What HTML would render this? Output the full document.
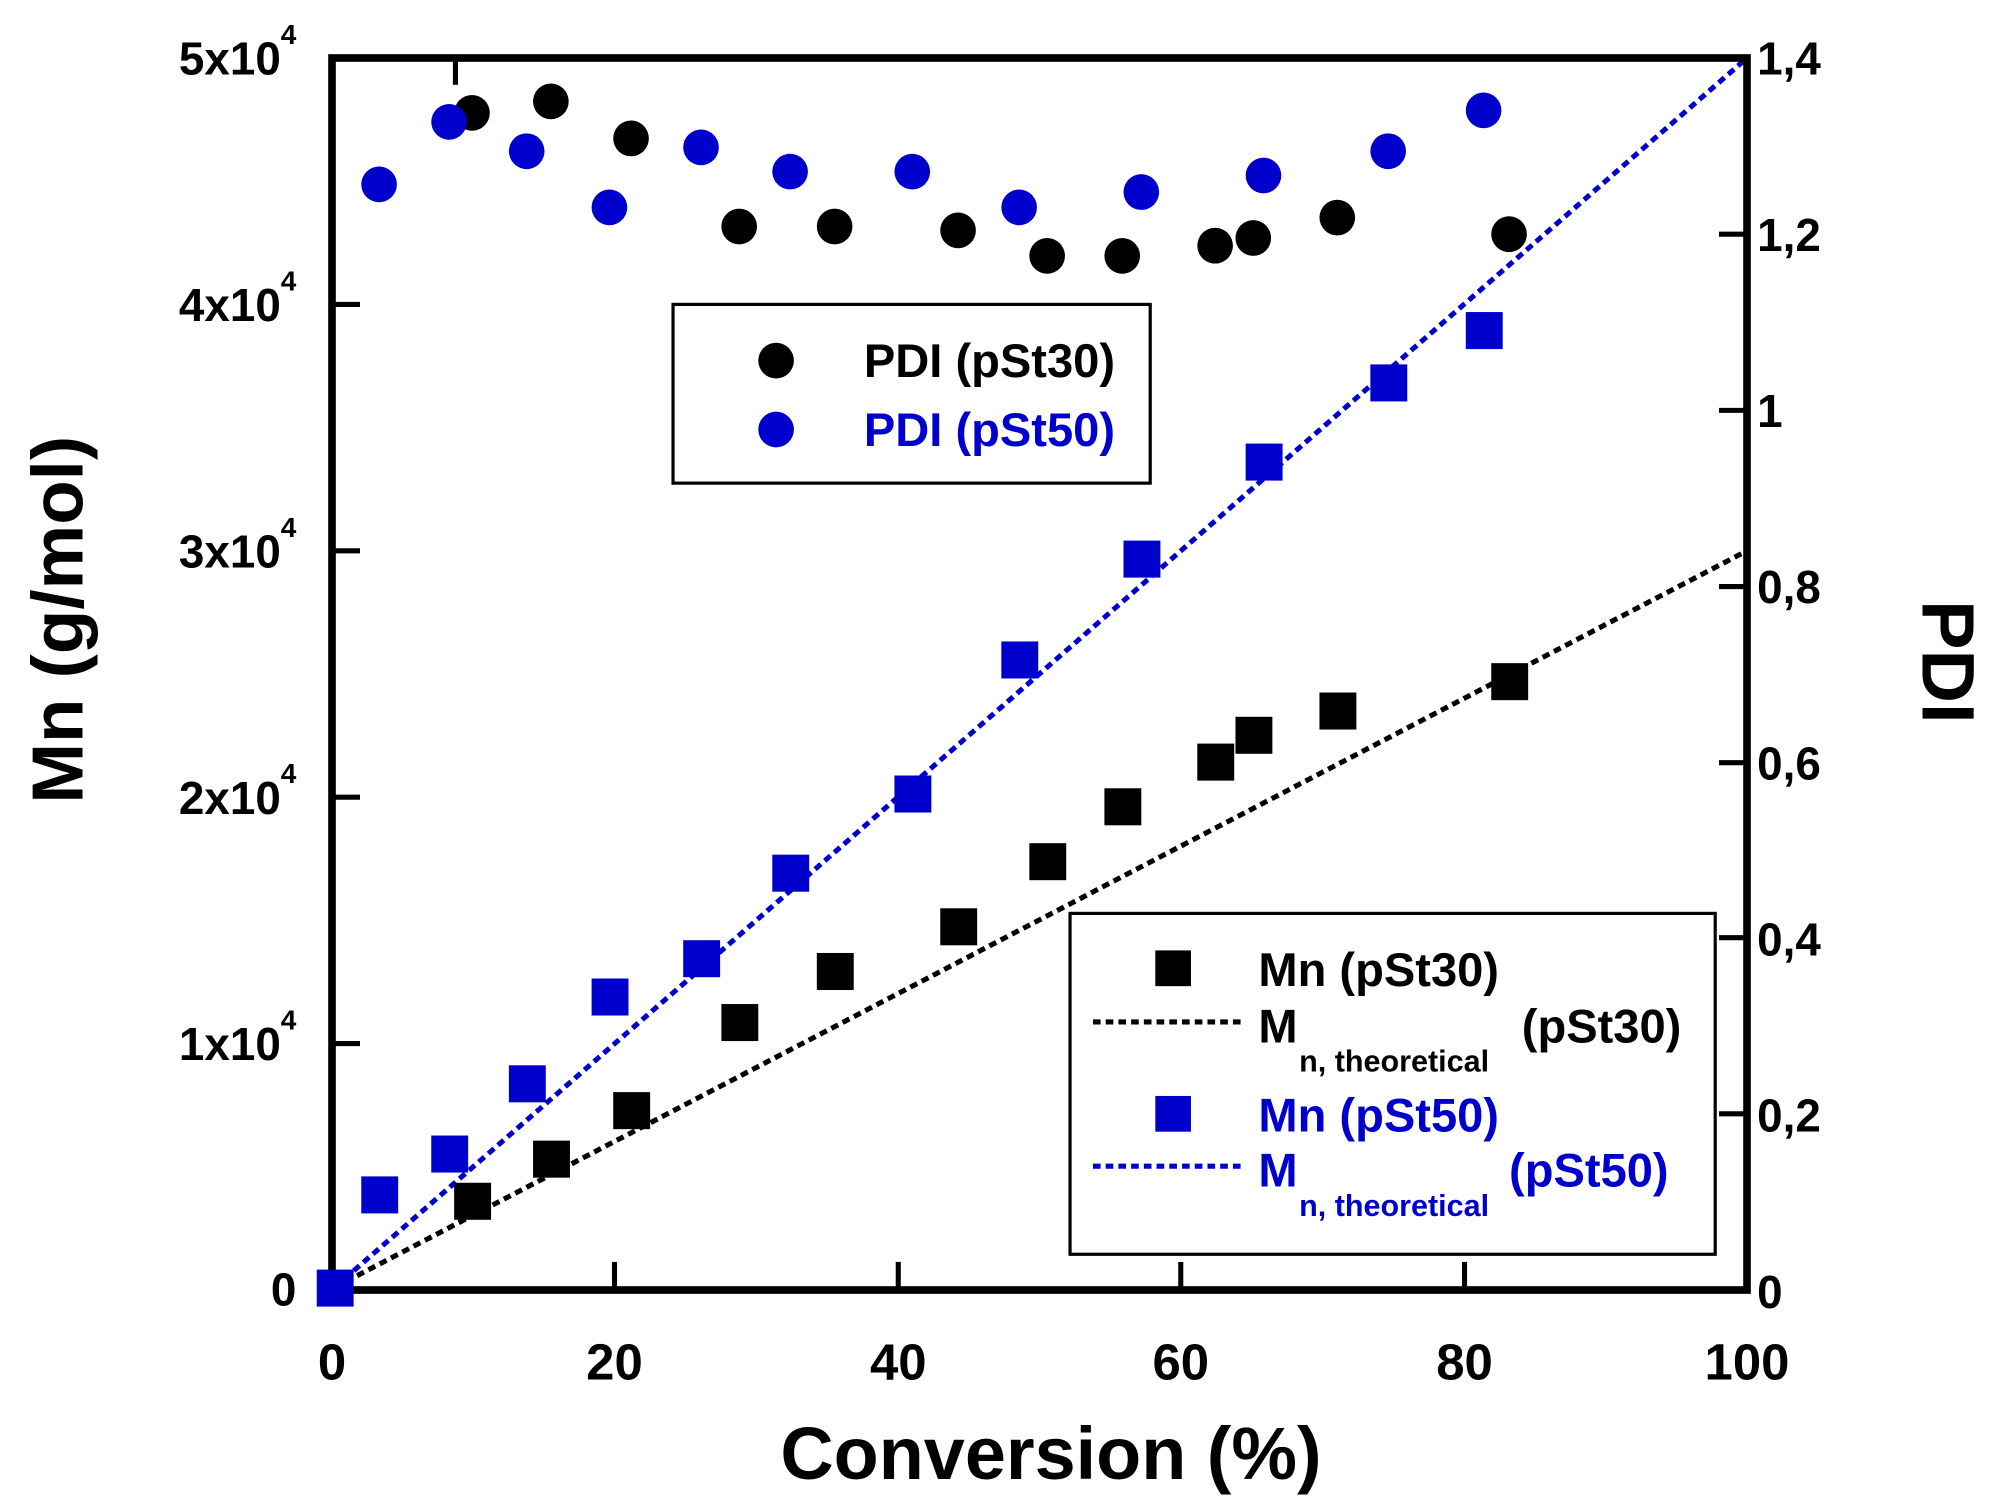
<!DOCTYPE html>
<html><head><meta charset="utf-8"><style>
html,body{margin:0;padding:0;background:#fff;}
svg{display:block;}
text{font-family:"Liberation Sans",Arial,sans-serif;font-weight:bold;}
</style></head><body>
<svg width="1997" height="1508" viewBox="0 0 1997 1508" xmlns="http://www.w3.org/2000/svg">
<rect width="1997" height="1508" fill="#fff"/>
<g transform="translate(332,58) scale(1.2725,1.2767) translate(-260,-45)">
<line x1="262" y1="1008" x2="1372" y2="45" stroke="#0000cc" stroke-width="4" stroke-dasharray="6,4"/>
<line x1="262" y1="1008" x2="1372" y2="431" stroke="#000" stroke-width="4" stroke-dasharray="6,4"/>
<rect x="260" y="45" width="1112" height="965" fill="none" stroke="#000" stroke-width="6"/>
<g stroke="#000" stroke-width="4">
<line x1="482" y1="1010" x2="482" y2="988"/>
<line x1="705" y1="1010" x2="705" y2="988"/>
<line x1="927" y1="1010" x2="927" y2="988"/>
<line x1="1150" y1="1010" x2="1150" y2="988"/>
<line x1="357" y1="45" x2="357" y2="66"/>
<line x1="260" y1="817" x2="282" y2="817"/>
<line x1="260" y1="624" x2="282" y2="624"/>
<line x1="260" y1="431" x2="282" y2="431"/>
<line x1="260" y1="238" x2="282" y2="238"/>
<line x1="1372" y1="872" x2="1350" y2="872"/>
<line x1="1372" y1="734" x2="1350" y2="734"/>
<line x1="1372" y1="597" x2="1350" y2="597"/>
<line x1="1372" y1="459" x2="1350" y2="459"/>
<line x1="1372" y1="321" x2="1350" y2="321"/>
<line x1="1372" y1="183" x2="1350" y2="183"/>
</g>
<g fill="#000">
<circle cx="370" cy="88" r="14"/><circle cx="432" cy="79" r="14"/><circle cx="495" cy="108" r="14"/>
<circle cx="580" cy="177" r="14"/><circle cx="655" cy="177" r="14"/><circle cx="752" cy="180" r="14"/>
<circle cx="822" cy="200" r="14"/><circle cx="881" cy="200" r="14"/><circle cx="954" cy="192" r="14"/>
<circle cx="984" cy="186" r="14"/><circle cx="1050" cy="170" r="14"/><circle cx="1185" cy="183" r="14"/>
</g>
<g fill="#0000cc">
<circle cx="297" cy="144" r="14"/><circle cx="352" cy="95" r="14"/><circle cx="413" cy="118" r="14"/>
<circle cx="478" cy="162" r="14"/><circle cx="550" cy="115" r="14"/><circle cx="620" cy="134" r="14"/>
<circle cx="716" cy="134" r="14"/><circle cx="800" cy="162" r="14"/><circle cx="896" cy="150" r="14"/>
<circle cx="992" cy="137" r="14"/><circle cx="1090" cy="118" r="14"/><circle cx="1165" cy="86" r="14"/>
</g>
<g fill="#000">
<rect x="356" y="926" width="29" height="29"/><rect x="418" y="893" width="29" height="29"/><rect x="481" y="855" width="29" height="29"/>
<rect x="566" y="786" width="29" height="29"/><rect x="641" y="746" width="29" height="29"/><rect x="738" y="711" width="29" height="29"/>
<rect x="808" y="660" width="29" height="29"/><rect x="867" y="617" width="29" height="29"/><rect x="940" y="582" width="29" height="29"/>
<rect x="970" y="561" width="29" height="29"/><rect x="1036" y="542" width="29" height="29"/><rect x="1171" y="519" width="29" height="29"/>
</g>
<g fill="#0000cc">
<rect x="248" y="994" width="29" height="29"/><rect x="283" y="921" width="29" height="29"/><rect x="338" y="889" width="29" height="29"/>
<rect x="399" y="834" width="29" height="29"/><rect x="464" y="766" width="29" height="29"/><rect x="536" y="736" width="29" height="29"/>
<rect x="606" y="669" width="29" height="29"/><rect x="702" y="607" width="29" height="29"/><rect x="786" y="502" width="29" height="29"/>
<rect x="882" y="423" width="29" height="29"/><rect x="978" y="347" width="29" height="29"/><rect x="1076" y="285" width="29" height="29"/>
<rect x="1151" y="244" width="29" height="29"/>
</g>
<g font-size="36" text-anchor="end">
<text x="232" y="58">5x10<tspan font-size="22" dy="-24">4</tspan></text>
<text x="232" y="251">4x10<tspan font-size="22" dy="-24">4</tspan></text>
<text x="232" y="444">3x10<tspan font-size="22" dy="-24">4</tspan></text>
<text x="232" y="637">2x10<tspan font-size="22" dy="-24">4</tspan></text>
<text x="232" y="830">1x10<tspan font-size="22" dy="-24">4</tspan></text>
<text x="232" y="1022">0</text>
</g>
<g font-size="36">
<text x="1380" y="58">1,4</text>
<text x="1380" y="196">1,2</text>
<text x="1380" y="334">1</text>
<text x="1380" y="472">0,8</text>
<text x="1380" y="610">0,6</text>
<text x="1380" y="748">0,4</text>
<text x="1380" y="886">0,2</text>
<text x="1380" y="1024">0</text>
</g>
<g font-size="40" text-anchor="middle">
<text x="260" y="1080">0</text><text x="482" y="1080">20</text><text x="705" y="1080">40</text>
<text x="927" y="1080">60</text><text x="1150" y="1080">80</text><text x="1372" y="1080">100</text>
</g>
<text x="825" y="1158" font-size="58" text-anchor="middle">Conversion (%)</text>
<text transform="translate(64,485) rotate(-90)" font-size="57" text-anchor="middle">Mn (g/mol)</text>
<text transform="translate(1510,518) rotate(90)" font-size="58" text-anchor="middle">PDI</text>
<rect x="528" y="238" width="375" height="140" fill="#fff" stroke="#000" stroke-width="2.5"/>
<circle cx="609" cy="282" r="14" fill="#000"/>
<circle cx="609" cy="336" r="14" fill="#0000cc"/>
<text x="678" y="295" font-size="37">PDI (pSt30)</text>
<text x="678" y="349" font-size="37" fill="#0000cc">PDI (pSt50)</text>
<rect x="840" y="715" width="507" height="267" fill="#fff" stroke="#000" stroke-width="2.5"/>
<rect x="907" y="744" width="28" height="28" fill="#000"/>
<text x="988" y="772" font-size="37">Mn (pSt30)</text>
<line x1="858" y1="800" x2="975" y2="800" stroke="#000" stroke-width="4" stroke-dasharray="6,4"/>
<text x="988" y="816" font-size="37">M</text>
<text x="1020" y="839" font-size="24">n, theoretical</text>
<text x="1195" y="816" font-size="37">(pSt30)</text>
<rect x="907" y="858" width="28" height="28" fill="#0000cc"/>
<text x="988" y="886" font-size="37" fill="#0000cc">Mn (pSt50)</text>
<line x1="858" y1="913" x2="975" y2="913" stroke="#0000cc" stroke-width="4" stroke-dasharray="6,4"/>
<text x="988" y="929" font-size="37" fill="#0000cc">M</text>
<text x="1020" y="952" font-size="24" fill="#0000cc">n, theoretical</text>
<text x="1185" y="929" font-size="37" fill="#0000cc">(pSt50)</text>
</g>
</svg>
</body></html>
